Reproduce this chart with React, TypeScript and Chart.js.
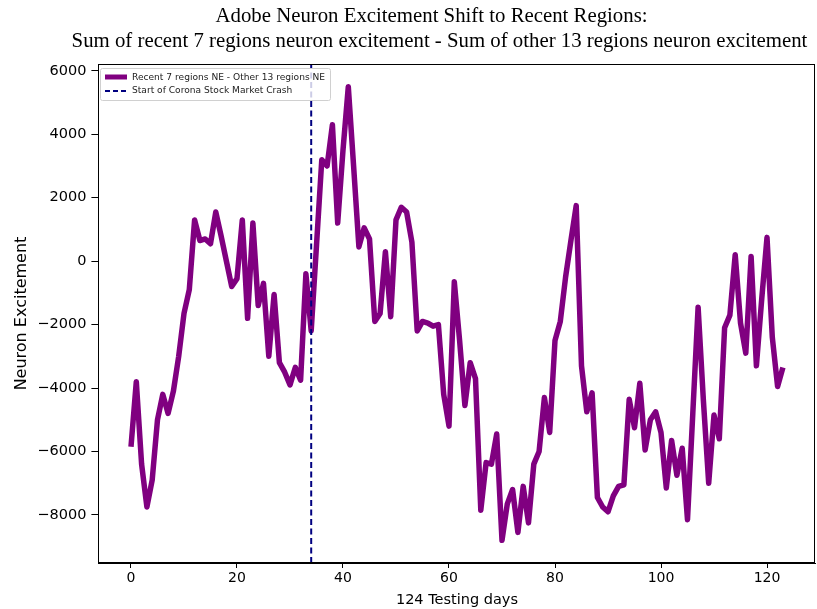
import React, { useEffect, useRef } from "react";
import { Chart, registerables } from "chart.js";

Chart.register(...registerables);

// ---- data ----
const neuronExcitement: number[] = [
  -5850, -3800, -6400, -7750, -6900, -5000, -4200, -4800, -4100, -3000,
  -1650, -900, 1300, 650, 700, 550, 1550, 800, 0, -800,
  -550, 1300, -1800, 1200, -1400, -700, -3000, -1050, -3200, -3500,
  -3900, -3350, -3750, -400, -2200, 500, 3200, 3000, 4300, 1200,
  3500, 5500, 3000, 450, 1050, 700, -1900, -1650, 300, -1750,
  1300, 1700, 1550, 600, -2200, -1900, -1950, -2050, -2000, -4200,
  -5200, -650, -2500, -4550, -3200, -3700, -7850, -6350, -6400, -5450,
  -8800, -7650, -7200, -8550, -7100, -8250, -6400, -6000, -4300, -5400,
  -2500, -1900, -500, 650, 1750, -3300, -4750, -4150, -7450, -7750,
  -7900, -7400, -7100, -7050, -4350, -5250, -3850, -5950, -5000, -4750,
  -5400, -7150, -5650, -6750, -5900, -8150, -4800, -1450, -4400, -7000,
  -4850, -5600, -2100, -1700, 200, -1950, -2900, 150, -3300, -1200,
  750, -2400, -3950, -3350,
];
const testingDays: number[] = neuronExcitement.map((_, i) => i);
const crashDay = 34;

const xTicks = [0, 20, 40, 60, 80, 100, 120];
const yTicks = [-8000, -6000, -4000, -2000, 0, 2000, 4000, 6000];
const xLimits = [-6.15, 129.15];
const yLimits = [-9515, 6215];

const titleLines = [
  "Adobe Neuron Excitement Shift to Recent Regions:",
  "Sum of recent 7 regions neuron excitement - Sum of other 13 regions neuron excitement",
];
const seriesLabel = "Recent 7 regions NE - Other 13 regions NE";
const crashLabel = "Start of Corona Stock Market Crash";
const xTitle = "124 Testing days";
const yTitle = "Neuron Excitement";

const PURPLE = "#800080";
const NAVY = "#000080";
const SANS = "'DejaVu Sans', sans-serif";

const fmt = (v: number) => (v < 0 ? "\u2212" + Math.abs(v) : String(v));

const decorPlugin = {
  id: "decor",
  afterDraw(chart: any) {
    const { ctx, chartArea: a } = chart;
    ctx.save();
    // frame (all four spines)
    ctx.strokeStyle = "#000";
    ctx.lineWidth = 1;
    ctx.strokeRect(Math.round(a.left) + 0.5, Math.round(a.top) + 0.5, Math.round(a.right - a.left) - 1, Math.round(a.bottom - a.top) - 1);

    // title
    ctx.fillStyle = "#000";
    ctx.font = "20.8px 'Liberation Serif', 'Times New Roman', serif";
    ctx.textAlign = "center";
    ctx.textBaseline = "middle";
    ctx.fillText(titleLines[0], 431.5, 17);
    ctx.fillText(titleLines[1], 439.5, 42);

    // legend
    const lx = 100.5, ly = 68.5, lw = 230, lh = 32;
    ctx.beginPath();
    (ctx as any).roundRect(lx, ly, lw, lh, 2);
    ctx.fillStyle = "rgba(255,255,255,0.8)";
    ctx.fill();
    ctx.strokeStyle = "#d0d0d0";
    ctx.lineWidth = 1;
    ctx.stroke();

    ctx.beginPath();
    ctx.strokeStyle = PURPLE;
    ctx.lineWidth = 5;
    ctx.moveTo(105, 77);
    ctx.lineTo(127, 77);
    ctx.stroke();

    ctx.beginPath();
    ctx.strokeStyle = NAVY;
    ctx.lineWidth = 2;
    ctx.setLineDash([5, 3]);
    ctx.moveTo(105, 91);
    ctx.lineTo(128, 91);
    ctx.stroke();
    ctx.setLineDash([]);

    ctx.fillStyle = "#222";
    ctx.font = "9.1px 'DejaVu Sans', sans-serif";
    ctx.textAlign = "left";
    ctx.textBaseline = "middle";
    ctx.fillText(seriesLabel, 132, 77.5);
    ctx.fillText(crashLabel, 132, 91);
    ctx.restore();
  },
};

export default function App() {
  const ref = useRef<HTMLCanvasElement | null>(null);

  useEffect(() => {
    if (!ref.current) return;
    const chart = new Chart(ref.current, {
      type: "line",
      data: {
        datasets: [
          {
            label: crashLabel,
            data: [
              { x: crashDay, y: yLimits[0] },
              { x: crashDay, y: yLimits[1] },
            ],
            borderColor: NAVY,
            borderWidth: 2,
            borderDash: [6, 3.5],
            pointRadius: 0,
            order: 1,
          },
          {
            label: seriesLabel,
            data: testingDays.map((d, i) => ({ x: d, y: neuronExcitement[i] })),
            borderColor: PURPLE,
            borderWidth: 5.5,
            borderJoinStyle: "round",
            pointRadius: 0,
            tension: 0,
            order: 2,
          },
        ],
      },
      options: {
        animation: false,
        responsive: false,
        maintainAspectRatio: false,
        layout: { padding: { top: 64, right: 1.5, left: 0, bottom: 0 } },
        plugins: {
          legend: { display: false },
          title: { display: false },
          tooltip: { enabled: false },
        },
        scales: {
          x: {
            type: "linear",
            min: xLimits[0],
            max: xLimits[1],
            afterBuildTicks: (s: any) => {
              s.ticks = xTicks.map((v) => ({ value: v }));
            },
            afterFit: (s: any) => {
              s.height = 46;
            },
            ticks: {
              color: "#000",
              font: { family: SANS, size: 14 },
              padding: 2,
              maxRotation: 0,
              callback: (v: any) => fmt(Number(v)),
            },
            grid: { drawOnChartArea: false, drawTicks: true, tickLength: 5, color: "#000" },
            border: { display: true, color: "#000" },
            title: {
              display: true,
              text: xTitle,
              color: "#000",
              font: { family: SANS, size: 14.5 },
              padding: { top: 0, bottom: 0 },
            },
          },
          y: {
            type: "linear",
            min: yLimits[0],
            max: yLimits[1],
            afterBuildTicks: (s: any) => {
              s.ticks = yTicks.map((v) => ({ value: v }));
            },
            afterFit: (s: any) => {
              s.width = 98.4;
            },
            ticks: {
              color: "#000",
              font: { family: SANS, size: 14.5 },
              padding: 5,
              callback: (v: any) => fmt(Number(v)),
            },
            grid: { drawOnChartArea: false, drawTicks: true, tickLength: 7, color: "#000" },
            border: { display: true, color: "#000" },
            title: {
              display: true,
              text: yTitle,
              color: "#000",
              font: { family: SANS, size: 16 },
              padding: { top: 12, bottom: 0 },
            },
          },
        },
      },
      plugins: [decorPlugin],
    });
    return () => chart.destroy();
  }, []);

  return (
    <div style={{ position: "fixed", left: 0, top: 0, width: 817, height: 609, background: "#fff" }}>
      <canvas ref={ref} width={817} height={609} style={{ width: 817, height: 609, display: "block" }} />
    </div>
  );
}
